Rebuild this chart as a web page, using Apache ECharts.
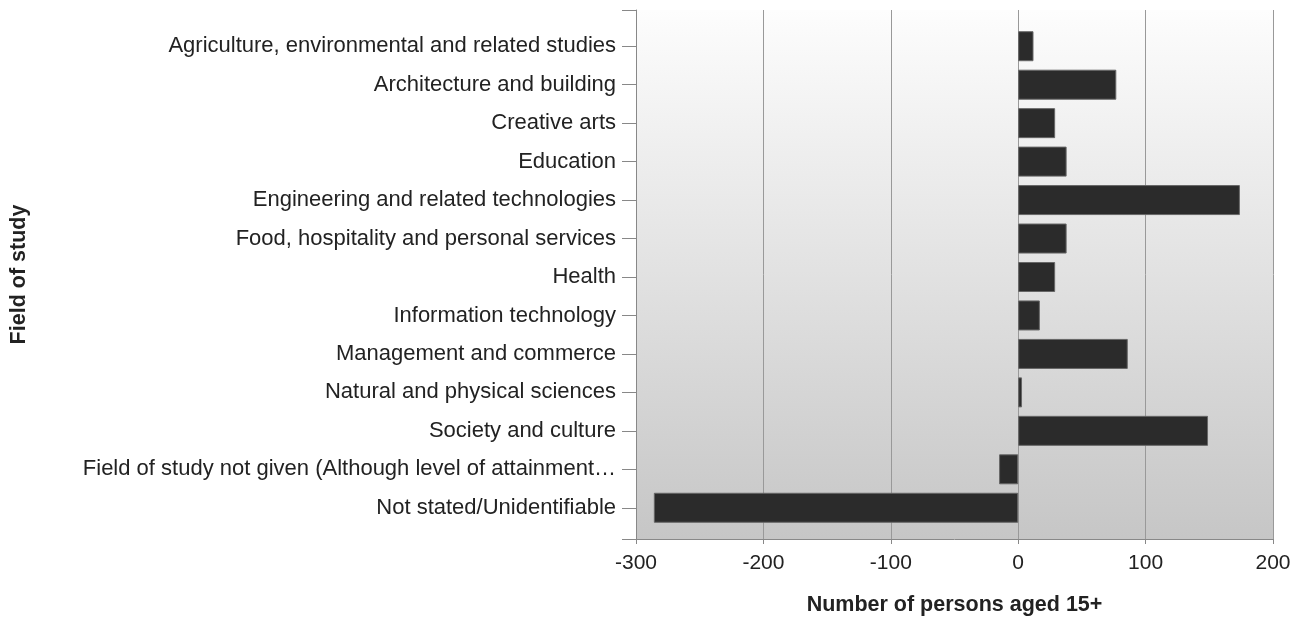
<!DOCTYPE html>
<html>
<head>
<meta charset="utf-8">
<script src="https://cdn.jsdelivr.net/npm/echarts@6/dist/echarts.min.js"></script>
<style>
  html, body { margin: 0; padding: 0; background: #fff; }
  #chart { width: 1309px; height: 621px; }
</style>
</head>
<body>
<div id="chart"></div>
<script>
const categories = [
  'Agriculture, environmental and related studies',
  'Architecture and building',
  'Creative arts',
  'Education',
  'Engineering and related technologies',
  'Food, hospitality and personal services',
  'Health',
  'Information technology',
  'Management and commerce',
  'Natural and physical sciences',
  'Society and culture',
  'Field of study not given (Although level of attainment…',
  'Not stated/Unidentifiable'
]
const values = [12, 77, 29, 38, 174, 38, 29, 17, 86, 3, 149, -15, -286]
const xTicks = { min: -300, max: 200, interval: 100 }

const font = 'Liberation Sans, Arial, sans-serif'
const textColor = '#222'

const chart = echarts.init(document.getElementById('chart'), null, { renderer: 'canvas' })

const option = {
  animation: false,
  textStyle: { fontFamily: font },
  grid: [
    // full plot area: background, gridlines, axes
    {
      left: 636, right: 36, top: 10, bottom: 75,
      show: true,
      borderWidth: 0,
      backgroundColor: new echarts.graphic.LinearGradient(0, 0, 0, 1, [
        { offset: 0, color: '#fdfdfd' },
        { offset: 1, color: '#c6c6c6' }
      ])
    },
    // inner band where the categories sit
    { left: 636, right: 36, top: 27, bottom: 94 }
  ],
  xAxis: [
    {
      gridIndex: 0,
      type: 'value',
      min: xTicks.min,
      max: xTicks.max,
      interval: xTicks.interval,
      name: 'Number of persons aged 15+',
      nameLocation: 'middle',
      nameGap: 55,
      nameTextStyle: { fontFamily: font, fontSize: 21.5, fontWeight: 'bold', color: textColor },
      axisLine: { show: true, onZero: false, lineStyle: { color: '#888', width: 1 } },
      axisTick: { show: true, length: 5, lineStyle: { color: '#888' } },
      axisLabel: { fontFamily: font, fontSize: 21, color: textColor, margin: 14 },
      splitLine: { show: true, lineStyle: { color: '#999', width: 1 } }
    },
    {
      gridIndex: 1,
      type: 'value',
      min: xTicks.min,
      max: xTicks.max,
      interval: xTicks.interval,
      show: false
    }
  ],
  yAxis: [
    {
      gridIndex: 0,
      type: 'value',
      min: 0,
      max: 1,
      interval: 1,
      name: 'Field of study',
      nameLocation: 'middle',
      nameRotate: 90,
      nameGap: 606,
      nameTextStyle: { fontFamily: font, fontSize: 21.5, fontWeight: 'bold', color: textColor },
      axisLine: { show: true, onZero: false, lineStyle: { color: '#888', width: 1 } },
      axisTick: { show: true, length: 14, lineStyle: { color: '#888' } },
      axisLabel: { show: false },
      splitLine: { show: false }
    },
    {
      gridIndex: 1,
      type: 'category',
      inverse: true,
      data: categories,
      axisLine: { show: false, onZero: false },
      axisTick: { show: true, alignWithLabel: true, length: 14, lineStyle: { color: '#888' } },
      axisLabel: { fontFamily: font, fontSize: 22, color: textColor, margin: 20 },
      splitLine: { show: false }
    }
  ],
  series: [
    {
      type: 'bar',
      xAxisIndex: 1,
      yAxisIndex: 1,
      data: values,
      barCategoryGap: '22%',
      itemStyle: { color: '#2b2b2b', borderColor: '#666', borderWidth: 1 }
    }
  ]
}

chart.setOption(option)
</script>
</body>
</html>
